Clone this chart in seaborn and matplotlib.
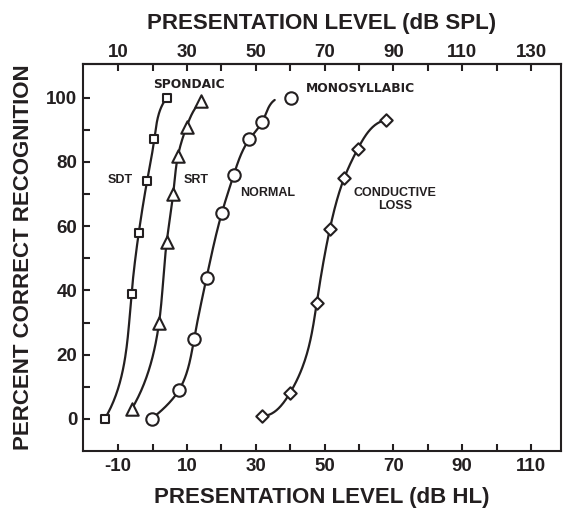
import numpy as np
import pandas as pd
import matplotlib
matplotlib.use("Agg")
import matplotlib.pyplot as plt
from matplotlib.ticker import FixedLocator
import seaborn as sns

# ---- data (x: dB HL, y: percent correct) ----
sdt_x = [-13.9, -6.1, -4.0, -1.6, 0.5, 4.2]
sdt_y = [0, 39, 58, 74, 87, 100]

srt_x = [-6.1, 1.9, 4.1, 6.0, 7.4, 9.9, 14.2]
srt_y = [3, 30, 55, 70, 82, 91, 99]

normal_x = [-0.3, 7.7, 12.1, 15.7, 20.1, 23.6, 28.1, 31.9, 40.1]
normal_y = [0, 9, 25, 44, 64, 76, 87, 92.5, 100]
normal_curve_end = (35.5, 99.3)   # where the drawn fit line stops

cond_x = [31.7, 39.9, 47.7, 51.5, 55.7, 59.6, 67.8]
cond_y = [1, 8, 36, 59, 75, 84, 93]

hl_ticks = [-10, 10, 30, 50, 70, 90, 110]
spl_ticks = [10, 30, 50, 70, 90, 110, 130]
y_ticks = [0, 20, 40, 60, 80, 100]

INK = "#231f20"
SX, SY = 3.44, 3.213   # approx. pixels per data unit (for an even-looking curve)


def clamped_spline(t, v, d0, d1):
    n = len(t) - 1
    h = np.diff(t)
    A = np.zeros((n + 1, n + 1))
    b = np.zeros(n + 1)
    A[0, 0], A[0, 1] = 2 * h[0], h[0]
    b[0] = 6 * ((v[1] - v[0]) / h[0] - d0)
    for i in range(1, n):
        A[i, i - 1] = h[i - 1]
        A[i, i] = 2 * (h[i - 1] + h[i])
        A[i, i + 1] = h[i]
        b[i] = 6 * ((v[i + 1] - v[i]) / h[i] - (v[i] - v[i - 1]) / h[i - 1])
    A[n, n - 1], A[n, n] = h[n - 1], 2 * h[n - 1]
    b[n] = 6 * (d1 - (v[n] - v[n - 1]) / h[n - 1])
    M = np.linalg.solve(A, b)
    out = []
    for i in range(n):
        tt = np.linspace(t[i], t[i + 1], 40)
        a = t[i + 1] - tt
        c = tt - t[i]
        s = (M[i] * a**3 / (6 * h[i]) + M[i + 1] * c**3 / (6 * h[i])
             + (v[i] / h[i] - M[i] * h[i] / 6) * a
             + (v[i + 1] / h[i] - M[i + 1] * h[i] / 6) * c)
        out.append(s)
    return np.concatenate(out)


def smooth_curve(x, y, start_dir, end_dir):
    X = np.asarray(x, float) * SX
    Y = np.asarray(y, float) * SY
    t = np.concatenate([[0], np.cumsum(np.hypot(np.diff(X), np.diff(Y)))])
    sd = np.asarray(start_dir, float); sd /= np.hypot(*sd)
    ed = np.asarray(end_dir, float); ed /= np.hypot(*ed)
    xs = clamped_spline(t, X, sd[0], ed[0])
    ys = clamped_spline(t, Y, sd[1], ed[1])
    return xs / SX, ys / SY


sns.set_style("ticks")
plt.rcParams["font.family"] = ["Liberation Sans", "DejaVu Sans"]
plt.rcParams["font.weight"] = "bold"
plt.rcParams["axes.labelweight"] = "bold"
plt.rcParams["axes.unicode_minus"] = False
plt.rcParams["text.color"] = INK

fig = plt.figure(figsize=(5.64, 5.09), dpi=100)
ax = fig.add_axes([82.7 / 564, 58 / 509, (561 - 82.7) / 564, (451 - 64) / 509])

# fitted curves (direction of the line at its start and end)
curves = [
    (sdt_x, sdt_y, (0.6, 1), (1, 1.2)),
    (srt_x, srt_y, (0.6, 1), (1, 0.9)),
    (normal_x[:-1] + [normal_curve_end[0]], normal_y[:-1] + [normal_curve_end[1]],
     (1, 0.8), (1, 0.7)),
    (cond_x, cond_y, (1, -0.1), (1, 0.15)),
]
for cx, cy, sd, ed in curves:
    xs, ys = smooth_curve(cx, cy, sd, ed)
    sns.lineplot(x=xs, y=ys, sort=False, estimator=None, color=INK, lw=1.6, ax=ax)

# markers
marker_sets = [
    (sdt_x, sdt_y, "s", 36),
    (srt_x, srt_y, "^", 80),
    (normal_x, normal_y, "o", 80),
    (cond_x, cond_y, "D", 40),
]
for mx, my, mk, sz in marker_sets:
    sns.scatterplot(x=mx, y=my, marker=mk, s=sz, facecolor="white",
                    edgecolor=INK, linewidth=1.5, zorder=5, ax=ax)

# annotations
lab_kw = dict(ha="center", va="center", fontsize=9, fontweight="bold", color=INK)
wide_kw = dict(lab_kw, fontsize=8.8, family=["DejaVu Sans"])
ax.text(10.6, 104.0, "SPONDAIC", **wide_kw)
ax.text(-9.3, 74.4, "SDT", **lab_kw)
ax.text(12.6, 74.4, "SRT", **lab_kw)
ax.text(33.4, 70.2, "NORMAL", **lab_kw)
ax.text(60.4, 102.9, "MONOSYLLABIC", **wide_kw)
ax.text(70.4, 68.3, "CONDUCTIVE\nLOSS", linespacing=1.05, **lab_kw)

ax.set_xlim(-20.3, 118.7)
ax.set_ylim(-10, 110.5)

ax.set_xticks(hl_ticks)
ax.xaxis.set_minor_locator(FixedLocator([0, 20, 40, 60, 80, 100]))
ax.set_yticks(y_ticks)
ax.yaxis.set_minor_locator(FixedLocator([10, 30, 50, 70, 90]))

for s in ax.spines.values():
    s.set_visible(True)
    s.set_linewidth(1.5)
    s.set_color(INK)

ax.tick_params(axis="both", which="both", direction="in", length=5, width=1.5,
               color=INK, labelcolor=INK, labelsize=13.5)
ax.tick_params(axis="x", which="both", pad=5, top=False)
ax.tick_params(axis="y", which="both", pad=4, right=False)
for lbl in ax.get_xticklabels() + ax.get_yticklabels():
    lbl.set_fontweight("bold")

ax.set_xlabel("PRESENTATION LEVEL (dB HL)", fontsize=16, fontweight="bold",
              color=INK, labelpad=9)
ax.set_ylabel("PERCENT CORRECT RECOGNITION", fontsize=16, fontweight="bold",
              color=INK, labelpad=9)

sec = ax.secondary_xaxis("top", functions=(lambda v: v + 20, lambda v: v - 20))
sec.set_xticks(spl_ticks)
sec.xaxis.set_minor_locator(FixedLocator([20, 40, 60, 80, 100, 120]))
sec.tick_params(axis="x", which="both", direction="in", length=5, width=1.5,
                color=INK, labelcolor=INK, labelsize=13.5, pad=2)
sec.spines["top"].set_linewidth(1.5)
sec.spines["top"].set_color(INK)
for lbl in sec.get_xticklabels():
    lbl.set_fontweight("bold")
sec.set_xlabel("PRESENTATION LEVEL (dB SPL)", fontsize=16, fontweight="bold",
               color=INK, labelpad=11)

fig.savefig("out.png", dpi=100)
